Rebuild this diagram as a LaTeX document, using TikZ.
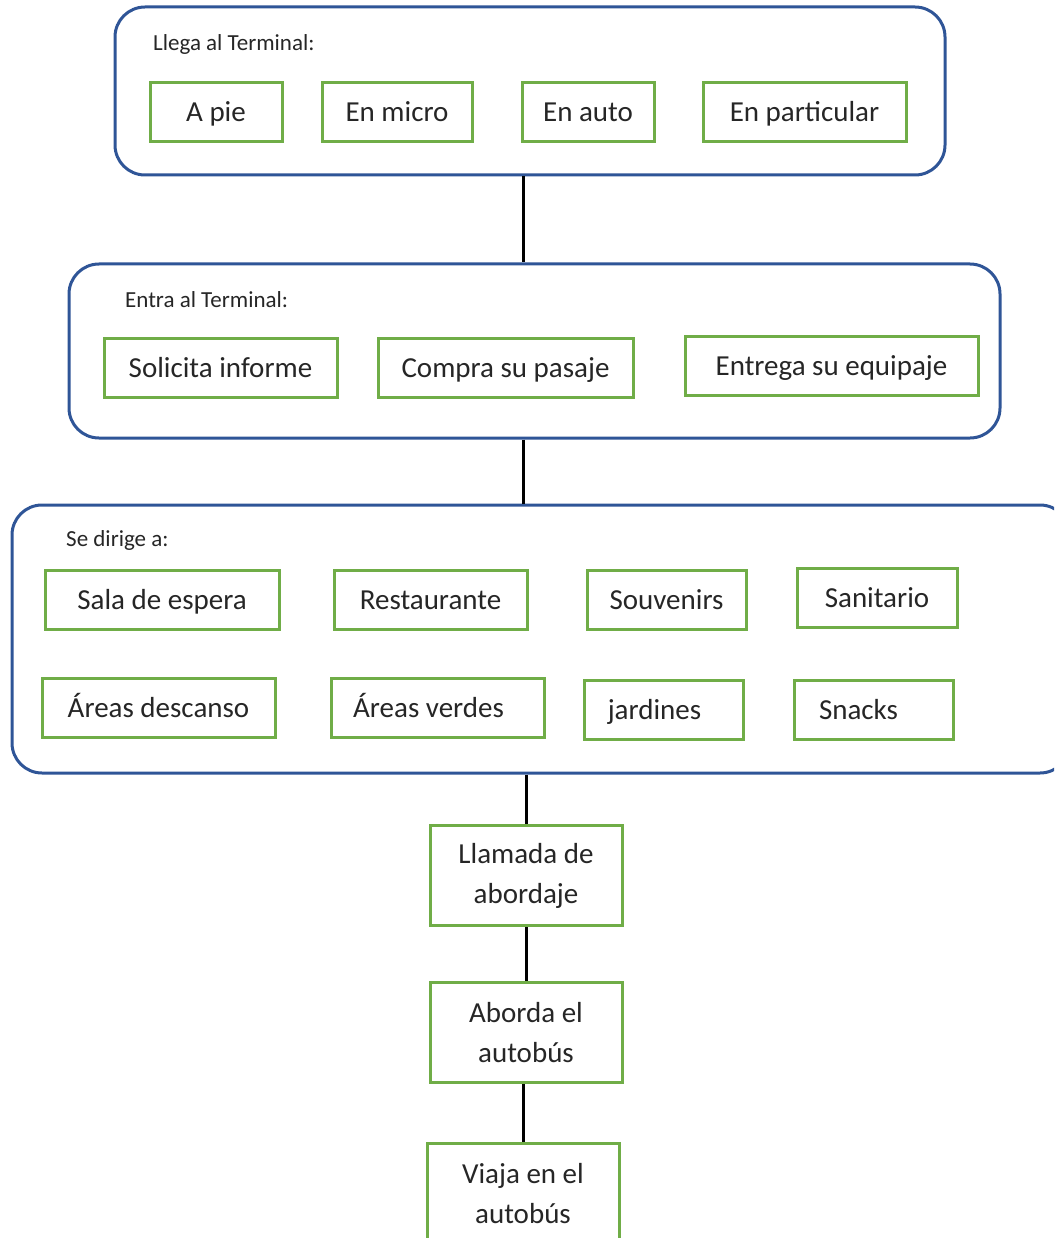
\documentclass[tikz,border=0pt]{standalone}
\usepackage{fontspec}
\setmainfont{Carlito}
\usepackage{tikz}
\usetikzlibrary{positioning}
\definecolor{groupblue}{HTML}{2F5597}
\definecolor{itemgreen}{HTML}{70AD47}
\definecolor{textgray}{HTML}{262626}

\begin{document}
\begin{tikzpicture}
  [
    x=1pt, y=-1pt,
    Group/.style={rectangle, draw=groupblue, line width=3pt, rounded corners=30pt, inner sep=0pt},
    Green/.style={rectangle, draw=itemgreen, line width=3pt, inner sep=0pt,
      text=textgray, font=\fontsize{29}{40}\selectfont, align=center},
    Item/.style={Green, minimum height=59pt, text height=22pt, text depth=3pt},
    Step/.style={Green, minimum width=192pt, minimum height=100pt},
    Title/.style={anchor=west, inner sep=0pt, text=textgray, font=\fontsize{23}{28}\selectfont},
    Link/.style={draw, line width=3pt}
  ]
  \clip (0,0) rectangle (1054,1238);
  % Groups
  \node[Group, minimum width=830pt, minimum height=168pt] (llega) at (530, 91) {};
  \node[Group, minimum width=931pt, minimum height=174pt] (entra) at (534.5, 351) {};
  \node[Group, minimum width=1058pt, minimum height=268pt] (dirige) at (541, 639) {};
  \node[Title] (tllega) at (153, 44) {Llega al Terminal:};
  \node[Title] (tentra) at (125, 300) {Entra al Terminal:};
  \node[Title] (tdirige) at (66, 540) {Se dirige a:};
  % Llega al Terminal
  \node[Item, minimum width=132pt] (apie) at (216, 112.5) {A pie};
  \node[Item, minimum width=150pt] (micro) at (397, 112.5) {En micro};
  \node[Item, minimum width=132pt] (auto) at (588, 112.5) {En auto};
  \node[Item, minimum width=203pt] (particular) at (804.5, 112.5) {En particular};
  % Entra al Terminal
  \node[Item, minimum width=233pt] (informe) at (220.5, 367.5) {Solicita informe};
  \node[Item, minimum width=255pt] (pasaje) at (505.5, 368) {Compra su pasaje};
  \node[Item, minimum width=293pt] (equipaje) at (831.5, 366) {Entrega su equipaje};
  % Se dirige a
  \node[Item, minimum width=234pt] (espera) at (162, 600) {Sala de espera};
  \node[Item, minimum width=193pt] (restaurante) at (430.5, 600) {Restaurante};
  \node[Item, minimum width=159pt] (souvenirs) at (666.5, 600) {Souvenirs};
  \node[Item, minimum width=160pt] (sanitario) at (877, 598) {Sanitario};
  \node[Item, minimum width=233pt] (descanso) at (158.5, 708) {Áreas descanso};
  \node[Item, minimum width=213pt] (verdes) at (437.5, 708) {\hspace*{-18pt}Áreas verdes};
  \node[Item, minimum width=159pt] (jardines) at (663.5, 710) {\hspace*{-18pt}jardines};
  \node[Item, minimum width=159pt] (snacks) at (873.5, 710) {\hspace*{-30pt}Snacks};
  % Steps
  \node[Step] (llamada) at (526, 875.5) {Llamada de\\abordaje};
  \node[Step] (aborda) at (526, 1032.5) {Aborda el\\autobús};
  \node[Step] (viaja) at (523, 1193.5) {Viaja en el\\autobús};
  % Lines
  \path[Link] ([xshift=-7pt]llega.south) -- ([xshift=-7pt]llega.south |- entra.north);
  \path[Link] ([xshift=-11.5pt]entra.south) -- ([xshift=-11.5pt]entra.south |- dirige.north);
  \path[Link] (dirige.south -| llamada) -- (llamada);
  \path[Link] (llamada) -- (aborda);
  \path[Link] (aborda.south -| viaja) -- (viaja);
\end{tikzpicture}
\end{document}
